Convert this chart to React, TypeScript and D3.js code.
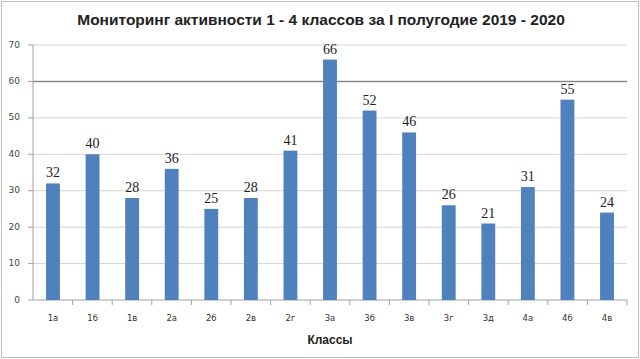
import React from 'react';
import * as d3 from 'd3';

const CLASSES = ["1а", "1б", "1в", "2а", "2б", "2в", "2г", "3а", "3б", "3в", "3г", "3д", "4а", "4б", "4в"];
const VALUES = [32, 40, 28, 36, 25, 28, 41, 66, 52, 46, 26, 21, 31, 55, 24];
const Y_TICKS = [0, 10, 20, 30, 40, 50, 60, 70];

const TITLE = "Мониторинг активности 1 - 4 классов за I полугодие 2019 - 2020";
const X_TITLE = "Классы";

const App: React.FC = () => {
    const width = 640;
    const height = 359;
    const margin = { top: 45, right: 13, bottom: 59, left: 33 };
    const innerWidth = width - margin.left - margin.right;
    const innerHeight = height - margin.top - margin.bottom;

    const xScale = d3.scaleBand()
        .domain(CLASSES)
        .range([0, innerWidth])
        .paddingInner(0.65)
        .paddingOuter(0.33);

    const xOuter = d3.scaleBand()
        .domain(CLASSES)
        .range([0, innerWidth]);

    const yScale = d3.scaleLinear()
        .domain([0, 70])
        .range([innerHeight, 0]);

    return (
        <svg width={width} height={height} style={{ position: 'absolute', left: 0, top: 0, background: '#fff' }}>
            <rect x={1.5} y={1.5} width={width - 3} height={height - 3} fill="#fff" stroke="#c0c0c0" />
            <text x={321} y={25} textAnchor="middle" fontFamily="'Liberation Sans', Arial, sans-serif"
                fontWeight="bold" fontSize="15.5px" fill="#222">{TITLE}</text>

            <g transform={`translate(${margin.left}, ${margin.top})`}>
                {Y_TICKS.map(t => (
                    <g key={t}>
                        {t > 0 && (
                            <line x1={0} x2={innerWidth} y1={yScale(t)} y2={yScale(t)}
                                stroke={t === 60 ? "#8a8a8a" : "#d4d4d4"} strokeWidth={t === 60 ? 1.4 : 1} />
                        )}
                        <line x1={-5} x2={0} y1={yScale(t)} y2={yScale(t)} stroke="#a0a0a0" />
                        <text x={-13} y={yScale(t)} textAnchor="end" dominantBaseline="middle"
                            fontFamily="'DejaVu Sans', Verdana, sans-serif" fontSize="9px" fill="#444">{t}</text>
                    </g>
                ))}

                <line x1={0} x2={0} y1={0} y2={innerHeight} stroke="#a0a0a0" />
                <line x1={0} x2={innerWidth} y1={innerHeight} y2={innerHeight} stroke="#a0a0a0" />

                {CLASSES.map(c => (
                    <line key={c} x1={(xOuter(c) || 0) + xOuter.bandwidth()} x2={(xOuter(c) || 0) + xOuter.bandwidth()}
                        y1={innerHeight} y2={innerHeight + 5} stroke="#a0a0a0" />
                ))}

                {CLASSES.map((c, i) => (
                    <g key={c}>
                        <rect x={xScale(c)} y={yScale(VALUES[i])} width={xScale.bandwidth()}
                            height={innerHeight - yScale(VALUES[i])} fill="#4f81bd" />
                        <text x={(xScale(c) || 0) + xScale.bandwidth() / 2} y={yScale(VALUES[i]) - 6}
                            textAnchor="middle" fontFamily="'Liberation Serif', 'Times New Roman', serif"
                            fontSize="14px" fill="#222">{VALUES[i]}</text>
                        <text x={(xScale(c) || 0) + xScale.bandwidth() / 2} y={innerHeight + 21}
                            textAnchor="middle" fontFamily="'DejaVu Sans', Verdana, sans-serif"
                            fontSize="8.5px" fill="#333">{c}</text>
                    </g>
                ))}

                <text x={innerWidth / 2} y={innerHeight + 44} textAnchor="middle"
                    fontFamily="'Liberation Sans', Arial, sans-serif" fontWeight="bold" fontSize="12px" fill="#222">{X_TITLE}</text>
            </g>
        </svg>
    );
};

export default App;
